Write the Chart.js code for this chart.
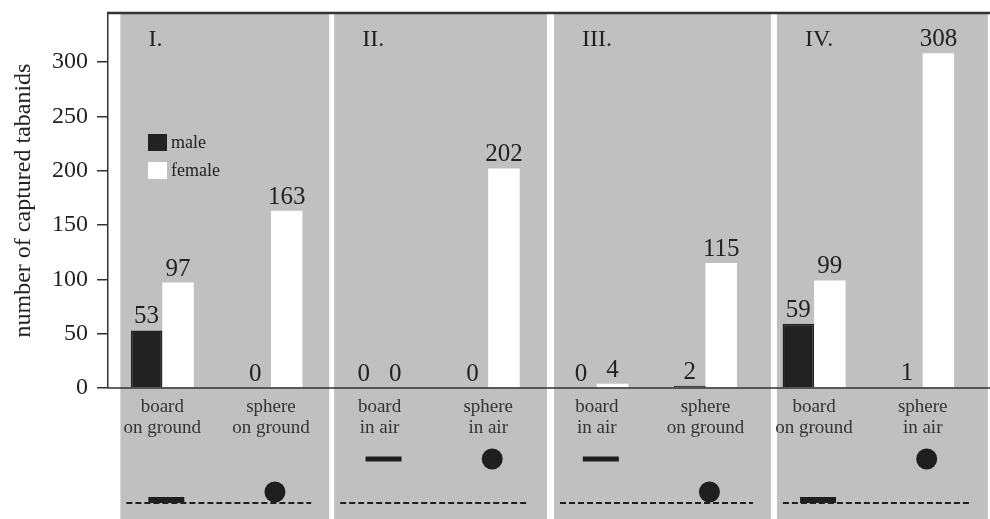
<!DOCTYPE html>
<html>
<head>
<meta charset="utf-8">
<script src="https://cdn.jsdelivr.net/npm/chart.js@4"></script>
<style>
  body { margin: 0; background: #fff; }
  #wrap { width: 990px; height: 519px; }
</style>
</head>
<body>
<div id="wrap"><canvas id="myChart"></canvas></div>
<script>
// data
const categories = [
  ["board", "on ground"], ["sphere", "on ground"],
  ["board", "in air"], ["sphere", "in air"],
  ["board", "in air"], ["sphere", "on ground"],
  ["board", "on ground"], ["sphere", "in air"]
];
const maleCounts = [53, 0, 0, 0, 0, 2, 59, 1];
const femaleCounts = [97, 163, 0, 202, 4, 115, 99, 308];
const yTicks = [0, 50, 100, 150, 200, 250, 300];
const panelLabels = ["I.", "II.", "III.", "IV."];

// panel edges in category units (layout only)
const panelEdges = [[-0.386, 1.536], [1.582, 3.542], [3.606, 5.603], [5.658, 7.6]];

const serif = "'Liberation Serif', 'DejaVu Serif', serif";
const gray = "#c0c0c0";
const ink = "#222";

const panelPlugin = {
  id: "panels",
  beforeDraw(chart) {
    const { ctx, chartArea, scales: { x } } = chart;
    ctx.save();
    ctx.fillStyle = gray;
    panelEdges.forEach(([a, b]) => {
      const x0 = x.getPixelForValue(a), x1 = x.getPixelForValue(b);
      ctx.fillRect(x0, chartArea.top, x1 - x0, chart.height - chartArea.top);
    });
    ctx.restore();
  },
  afterDatasetsDraw(chart) {
    const { ctx, chartArea, scales: { x } } = chart;
    ctx.save();

    // axis line and top frame line
    ctx.strokeStyle = "#333";
    ctx.lineWidth = 1.5;
    ctx.beginPath();
    ctx.moveTo(chartArea.left, chartArea.bottom);
    ctx.lineTo(chart.width, chartArea.bottom);
    ctx.stroke();
    ctx.lineWidth = 2.5;
    ctx.beginPath();
    ctx.moveTo(chartArea.left - 1, chartArea.top);
    ctx.lineTo(chart.width, chartArea.top);
    ctx.stroke();

    // value labels over bars
    ctx.fillStyle = ink;
    ctx.font = "25px " + serif;
    ctx.textAlign = "center";
    ctx.textBaseline = "bottom";
    chart.data.datasets.forEach((ds, di) => {
      chart.getDatasetMeta(di).data.forEach((bar, i) => {
        ctx.fillText(String(ds.data[i]), bar.x, bar.y - 1);
      });
    });

    // panel labels
    ctx.font = "24px " + serif;
    ctx.textAlign = "left";
    ctx.textBaseline = "alphabetic";
    panelLabels.forEach((lab, i) => {
      ctx.fillText(lab, x.getPixelForValue(panelEdges[i][0]) + 28, chartArea.top + 33);
    });

    // legend
    ctx.font = "18px " + serif;
    ctx.textBaseline = "middle";
    chart.data.datasets.forEach((ds, di) => {
      const ly = chartArea.top + 121 + di * 28;
      ctx.fillStyle = ds.backgroundColor;
      ctx.fillRect(chartArea.left + 40, ly, 19, 17);
      ctx.fillStyle = ink;
      ctx.fillText(ds.label, chartArea.left + 63, ly + 9);
    });

    // trap icons under each category
    const groundY = 503, airY = 459;
    ctx.fillStyle = "#1e1e1e";
    ctx.strokeStyle = "#1e1e1e";
    panelEdges.forEach(([a, b]) => {
      const x0 = x.getPixelForValue(a) + 6, x1 = x.getPixelForValue(b) - 18;
      ctx.lineWidth = 2;
      ctx.setLineDash([6, 3]);
      ctx.beginPath();
      ctx.moveTo(x0, groundY);
      ctx.lineTo(x1, groundY);
      ctx.stroke();
    });
    ctx.setLineDash([]);
    categories.forEach((cat, i) => {
      const cx = x.getPixelForValue(i) + 4;
      const onGround = cat[1] === "on ground";
      if (cat[0] === "board") {
        if (onGround) ctx.fillRect(cx - 18, groundY - 6, 36, 6);
        else ctx.fillRect(cx - 18, airY - 2.5, 36, 5);
      } else {
        ctx.beginPath();
        ctx.arc(cx, onGround ? groundY - 11 : airY, 10.5, 0, Math.PI * 2);
        ctx.fill();
      }
    });
    ctx.restore();
  }
};

const ctx = document.getElementById("myChart").getContext("2d");
new Chart(ctx, {
  type: "bar",
  data: {
    labels: categories,
    datasets: [
      {
        label: "male", data: maleCounts, backgroundColor: "#222222",
        borderColor: "#222222", borderWidth: c => (c.raw > 0 ? 1.5 : 0)
      },
      { label: "female", data: femaleCounts, backgroundColor: "#ffffff" }
    ]
  },
  options: {
    responsive: true,
    maintainAspectRatio: false,
    animation: false,
    layout: { padding: { top: 13, right: 13, left: 0, bottom: 0 } },
    datasets: { bar: { categoryPercentage: 0.58, barPercentage: 1.0 } },
    plugins: { legend: { display: false }, tooltip: { enabled: false } },
    scales: {
      x: {
        grid: { display: false, drawTicks: false },
        border: { display: false },
        ticks: { color: "#333", padding: 9, maxRotation: 0, autoSkip: false, font: { family: serif, size: 19, lineHeight: 1.1 } },
        afterFit(scale) { scale.height = 131; }
      },
      y: {
        min: 0,
        max: 345,
        afterBuildTicks(scale) { scale.ticks = yTicks.map(v => ({ value: v })); },
        grid: { drawOnChartArea: false, tickLength: 11, color: "#333", lineWidth: 1.5 },
        border: { color: "#333", width: 1.5 },
        ticks: { color: ink, padding: 9, font: { family: serif, size: 24 } },
        title: { display: true, text: "number of captured tabanids", color: ink, padding: { top: 9, bottom: 0 }, font: { family: serif, size: 24 } },
        afterFit(scale) {
          scale.width = 108;
          scale.paddingTop = 0;
          scale.paddingBottom = 0;
        }
      }
    }
  },
  plugins: [panelPlugin]
});
</script>
</body>
</html>
